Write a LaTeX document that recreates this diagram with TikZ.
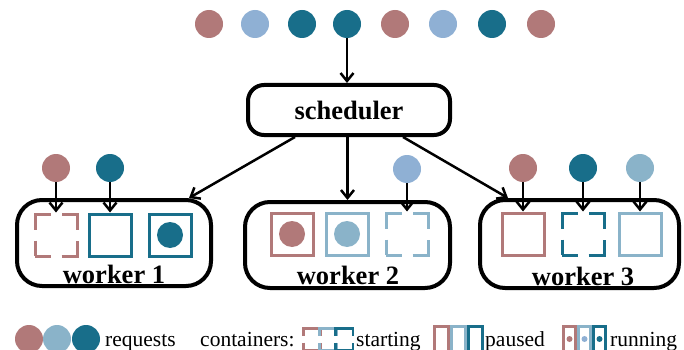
\documentclass[tikz,border=0pt]{standalone}
\usepackage{fontspec}
\setmainfont{Liberation Serif}
\usepackage{tikz}
\usetikzlibrary{arrows.meta}
\definecolor{rose}{RGB}{177, 121, 121}
\definecolor{steel}{RGB}{143, 176, 212}
\definecolor{pale}{RGB}{138, 179, 201}
\definecolor{petrol}{RGB}{24, 110, 138}

\begin{document}
\begin{tikzpicture}[x=1pt, y=-1pt,
  req/.style={circle, fill=#1, inner sep=0pt, minimum size=28pt},
  box/.style={draw=#1, line width=3pt, inner sep=0pt, minimum size=42pt},
  start/.style={box=#1, dash pattern=on 31pt off 11pt, dash phase=15.5pt},
  run/.style={box=#1, path picture={\fill[#1] (path picture bounding box.center) circle (13pt);}},
  lbox/.style={draw=#1, line width=3pt, inner sep=0pt, minimum width=12pt, minimum height=26pt},
  unit/.style={draw, line width=4pt, rounded corners=25pt, inner sep=0pt},
  big/.style={font=\fontsize{26.5}{30}\selectfont\bfseries},
  arr/.style={-{Straight Barb[length=8pt, width=13pt]}, line width=2.5pt},
  legend/.style={font=\fontsize{21.5}{24}\selectfont, anchor=base west, inner sep=0pt}]

  \useasboundingbox (0, 0) rectangle (684, 350);

  % incoming requests
  \foreach \x/\c [count=\i] in {209/rose, 255/steel, 302/petrol, 347/petrol,
                                395/rose, 443/steel, 492/petrol, 541/rose}
    \node[req=\c] (q\i) at (\x, 24) {};

  \node[unit, rounded corners=16pt, minimum width=202pt, minimum height=50pt, big]
    (sched) at (349, 110) {scheduler};
  \draw[arr] (q4) -- (q4 |- sched.north);

  % workers
  \node[unit, minimum width=194pt, minimum height=86pt] (w1) at (114, 243) {};
  \node[unit, minimum width=205pt, minimum height=86pt] (w2) at (347.5, 245) {};
  \node[unit, minimum width=199pt, minimum height=88pt] (w3) at (579.5, 244) {};
  \node[big] (n1) at (114, 274) {worker 1};
  \node[big] (n2) at (348, 275) {worker 2};
  \node[big] (n3) at (583, 276) {worker 3};

  \draw[arr] ([xshift=-54pt]sched.south) -- ([xshift=-24pt]w1.north east);
  \draw[arr] (sched.south -| w2.north) -- (w2.north);
  \draw[arr] ([xshift=54pt]sched.south) -- ([xshift=30pt]w3.north west);

  % containers
  \node[start=rose] (c11) at (56, 235) {};
  \node[box=petrol] (c12) at (110, 235) {};
  \node[run=petrol] (c13) at (170, 235) {};
  \node[run=rose] (c21) at (292, 234) {};
  \node[run=pale] (c22) at (347, 234) {};
  \node[start=pale] (c23) at (407, 234) {};
  \node[box=rose] (c31) at (523, 234) {};
  \node[start=petrol] (c32) at (583, 234) {};
  \node[box=pale] (c33) at (640, 234) {};

  % requests handed to containers
  \node[req=rose] (r11) at (56, 168) {};
  \node[req=petrol] (r12) at (110, 168) {};
  \node[req=steel] (r23) at (407, 169) {};
  \node[req=rose] (r31) at (523, 168) {};
  \node[req=petrol] (r32) at (583, 168) {};
  \node[req=pale] (r33) at (640, 168) {};
  \foreach \n in {11, 12, 23, 31, 32, 33}
    \draw[arr] (r\n) -- (c\n);

  % legend
  \foreach \x/\c [count=\i] in {29/rose, 57/pale, 86/petrol}
    \node[req=\c] (l\i) at (\x, 339) {};
  \node[legend] (lreq) at (105, 346) {requests};
  \node[legend] (lcont) at (200, 346) {containers:};
  \foreach \x/\c [count=\i] in {312/rose, 328/pale, 344/petrol}
    \node[lbox=\c, line width=2.5pt, minimum width=17.5pt, minimum height=21.5pt,
          dash pattern=on 32pt off 7pt, dash phase=7.25pt]
      (s\i) at (\x, 339) {};
  \node[legend] (lstart) at (356, 346) {starting};
  \foreach \x/\c [count=\i] in {441.5/rose, 458.5/pale, 475/petrol}
    \node[lbox=\c, minimum width=14pt] (p\i) at (\x, 339) {};
  \node[legend] (lpause) at (485, 346) {paused};
  \foreach \x/\c/\d [count=\i] in {569.5/rose/rose, 584.5/pale/steel, 599.5/petrol/petrol}
    \node[lbox=\c, path picture={\fill[\d] (path picture bounding box.center) circle (3pt);}]
      (u\i) at (\x, 339) {};
  \node[legend] (lrun) at (610, 346) {running};

\end{tikzpicture}
\end{document}
